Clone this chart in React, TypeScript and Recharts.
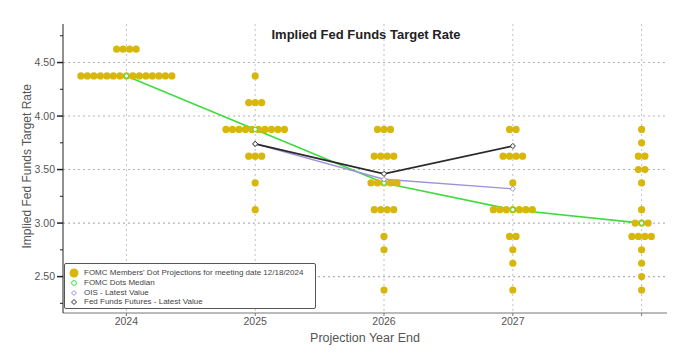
import React from 'react';
import {
  ComposedChart,
  Scatter,
  Line,
  XAxis,
  YAxis,
  CartesianGrid,
  ReferenceLine,
  Legend
} from 'recharts';

// projection years, the last one is the "longer run" column (no label)
const years = [2024, 2025, 2026, 2027, 2028];
const yearLabels = ['2024', '2025', '2026', '2027', ''];
const rateTicks = [2.25, 2.5, 2.75, 3.0, 3.25, 3.5, 3.75, 4.0, 4.25, 4.5, 4.75];
const majorRates = [2.5, 3.0, 3.5, 4.0, 4.5];

// FOMC dots: [rate, number of members]
const dots2024 = [[4.625, 4], [4.375, 15]];
const dots2025 = [[4.375, 1], [4.125, 3], [3.875, 10], [3.625, 3], [3.375, 1], [3.125, 1]];
const dots2026 = [[3.875, 3], [3.625, 4], [3.375, 5], [3.125, 4], [2.875, 1], [2.75, 1], [2.375, 1]];
const dots2027 = [[3.875, 2], [3.625, 4], [3.375, 1], [3.125, 7], [2.875, 2], [2.75, 1], [2.625, 1], [2.375, 1]];
const dotsLonger = [
  [3.875, 1], [3.75, 1], [3.625, 2], [3.5, 2], [3.375, 1], [3.125, 1],
  [3.0, 3], [2.875, 4], [2.75, 1], [2.625, 1], [2.5, 1], [2.375, 1]
];

const medianValues = [4.375, 3.875, 3.375, 3.125, 3.0];
const oisValues = [null, 3.74, 3.41, 3.32, null];
const futuresValues = [null, 3.74, 3.46, 3.72, null];

const GOLD = '#d8b70c';
const GREEN = '#3ddc3d';
const PURPLE = '#9d90dc';
const DARK = '#2a2a2a';
const DOT_STEP = 6.5;
const FONT = '"Liberation Sans", Arial, sans-serif';

const dotSets = [dots2024, dots2025, dots2026, dots2027, dotsLonger];
const dotData: { x: number; y: number; slot: number }[] = [];
dotSets.forEach((set, i) => {
  set.forEach(([rate, count]) => {
    for (let k = 0; k < count; k++) {
      dotData.push({ x: years[i], y: rate, slot: k - (count - 1) / 2 });
    }
  });
});

const lineData = years.map((y, i) => ({
  x: y,
  median: medianValues[i],
  ois: oisValues[i],
  futures: futuresValues[i]
}));

const DotShape = (props: any) => {
  const { cx, cy, payload } = props;
  if (cx == null || cy == null) return null;
  return <circle cx={cx + payload.slot * DOT_STEP} cy={cy} r={3.6} fill={GOLD} />;
};

const Diamond = (color: string) => (props: any) => {
  const { cx, cy, index } = props;
  if (cx == null || cy == null) return <g key={index} />;
  const s = 2.6;
  return (
    <path
      key={index}
      d={`M${cx},${cy - s} L${cx + s},${cy} L${cx},${cy + s} L${cx - s},${cy} Z`}
      fill="#fff"
      stroke={color}
      strokeWidth={1}
    />
  );
};

const YTick = (props: any) => {
  const { x, y, payload } = props;
  const major = majorRates.includes(payload.value);
  return (
    <g>
      <line x1={x} x2={x - (major ? 6 : 3)} y1={y} y2={y} stroke="#222" strokeWidth={major ? 1.5 : 1} />
      {major && (
        <text x={x - 8} y={y} dy="0.35em" textAnchor="end" fontSize={10.5} fill="#555" fontFamily={FONT}>
          {payload.value.toFixed(2)}
        </text>
      )}
    </g>
  );
};

const legendItems = [
  { name: "FOMC Members' Dot Projections for meeting date 12/18/2024", kind: 'dot' },
  { name: 'FOMC Dots Median', kind: 'median' },
  { name: 'OIS - Latest Value', kind: 'ois' },
  { name: 'Fed Funds Futures - Latest Value', kind: 'futures' }
];

const LegendBox = () => (
  <div
    style={{
      width: 252,
      height: 46,
      border: '1px solid #555',
      borderRadius: 2,
      background: '#fff',
      boxSizing: 'border-box',
      padding: '4px 0 0 4px',
      fontFamily: FONT,
      fontSize: 8,
      color: '#444'
    }}
  >
    {legendItems.map((it) => (
      <div key={it.name} style={{ display: 'flex', alignItems: 'center', height: 9.8, lineHeight: '9.8px' }}>
        <svg width={14} height={10} style={{ marginRight: 1 }}>
          {it.kind === 'dot' && <circle cx={5} cy={5} r={4.5} fill={GOLD} />}
          {it.kind === 'median' && <circle cx={5} cy={5} r={2.4} fill="#fff" stroke={GREEN} />}
          {it.kind === 'ois' && <path d="M5,2.5 L7.5,5 L5,7.5 L2.5,5 Z" fill="#fff" stroke={PURPLE} />}
          {it.kind === 'futures' && <path d="M5,2.5 L7.5,5 L5,7.5 L2.5,5 Z" fill="#fff" stroke={DARK} />}
        </svg>
        <span>{it.name}</span>
      </div>
    ))}
  </div>
);

const App = () => {
  return (
    <div style={{ position: 'absolute', left: 0, top: 0, width: 695, height: 362, background: '#fff' }}>
      <div
        style={{
          position: 'absolute',
          left: 0,
          width: 732,
          top: 27,
          textAlign: 'center',
          fontFamily: FONT,
          fontWeight: 'bold',
          fontSize: 13,
          color: '#222',
          zIndex: 2
        }}
      >
        Implied Fed Funds Target Rate
      </div>
      <ComposedChart
        width={695}
        height={362}
        data={lineData}
        margin={{ top: 24, right: 28, bottom: 19, left: 0 }}
      >
        <CartesianGrid
          stroke="#c0c0c0"
          strokeDasharray="2 3"
          horizontal={false}
          verticalValues={years}
        />
        {majorRates.map((r) => (
          <ReferenceLine key={r} y={r} stroke="#b4b4b4" strokeWidth={1.1} strokeDasharray="2 3" />
        ))}
        <XAxis
          dataKey="x"
          type="number"
          domain={[2023.508, 2028.197]}
          ticks={years}
          allowDataOverflow
          height={30}
          tickSize={3}
          tickMargin={2}
          stroke="#777"
          tick={{ fontSize: 10.5, fill: '#555', fontFamily: FONT }}
          tickFormatter={(v: number) => yearLabels[years.indexOf(v)]}
          label={{
            value: 'Projection Year End',
            position: 'insideBottom',
            offset: 1,
            fontSize: 12.5,
            fill: '#555',
            fontFamily: FONT
          }}
        />
        <YAxis
          type="number"
          domain={[2.16, 4.86]}
          ticks={rateTicks}
          allowDataOverflow
          width={63}
          tickSize={0}
          tickMargin={0}
          tickLine={false}
          stroke="#222"
          tick={<YTick />}
          label={{
            value: 'Implied Fed Funds Target Rate',
            angle: -90,
            position: 'insideLeft',
            dx: 22,
            dy: 80,
            fontSize: 12,
            fill: '#555',
            fontFamily: FONT
          }}
        />
        <Scatter data={dotData} dataKey="y" shape={<DotShape />} isAnimationActive={false} />
        <Line
          dataKey="median"
          stroke={GREEN}
          strokeWidth={1.6}
          dot={{ r: 2.2, fill: '#fff', stroke: GREEN, strokeWidth: 1 }}
          isAnimationActive={false}
        />
        <Line
          dataKey="ois"
          stroke={PURPLE}
          strokeWidth={1.4}
          dot={Diamond(PURPLE)}
          isAnimationActive={false}
        />
        <Line
          dataKey="futures"
          stroke={DARK}
          strokeWidth={1.7}
          dot={Diamond(DARK)}
          isAnimationActive={false}
        />
        <Legend
          layout="horizontal"
          verticalAlign="middle"
          align="center"
          content={<LegendBox />}
          wrapperStyle={{ position: 'absolute', left: 64, top: 263, width: 252, height: 46 }}
        />
      </ComposedChart>
    </div>
  );
};

export default App;
